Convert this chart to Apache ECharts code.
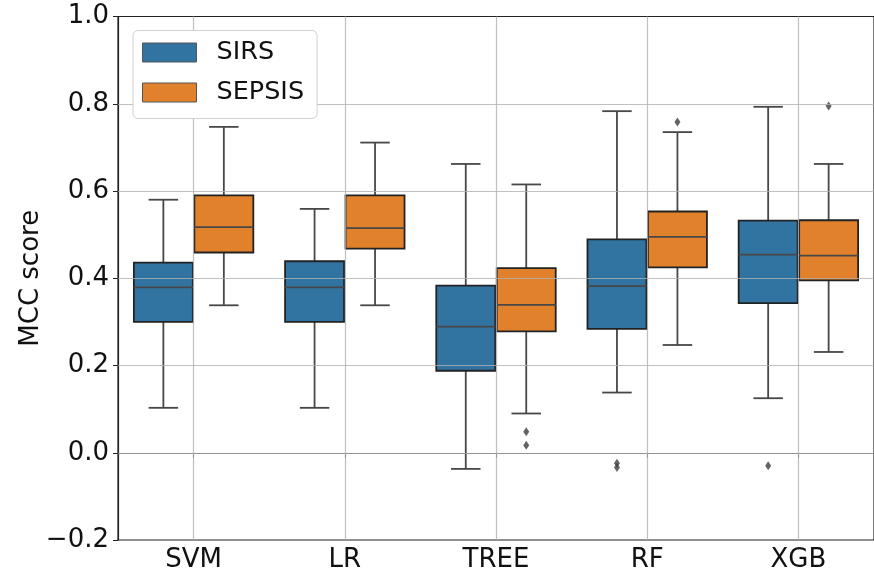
<!DOCTYPE html>
<html>
<head>
<meta charset="utf-8">
<script src="https://cdn.jsdelivr.net/npm/echarts@6/dist/echarts.min.js"></script>
<style>
  html, body { margin: 0; padding: 0; background: #fff; }
  #chart { width: 874px; height: 573px; }
</style>
</head>
<body>
<div id="chart"></div>
<script>
// model names on the x axis
const categories = ['SVM', 'LR', 'TREE', 'RF', 'XGB'];
const yTicks = [-0.2, 0, 0.2, 0.4, 0.6, 0.8, 1.0];

// box stats: whisker low, Q1, median, Q3, whisker high
const sirsMin = [0.103, 0.103, -0.037, 0.138, 0.125];
const sirsQ1  = [0.300, 0.300, 0.188, 0.284, 0.343];
const sirsMed = [0.379, 0.379, 0.289, 0.382, 0.454];
const sirsQ3  = [0.436, 0.439, 0.383, 0.489, 0.532];
const sirsMax = [0.580, 0.559, 0.662, 0.783, 0.793];

const sepsisMin = [0.338, 0.338, 0.090, 0.247, 0.231];
const sepsisQ1  = [0.459, 0.468, 0.278, 0.425, 0.395];
const sepsisMed = [0.517, 0.515, 0.339, 0.495, 0.452];
const sepsisQ3  = [0.590, 0.590, 0.423, 0.553, 0.533];
const sepsisMax = [0.747, 0.711, 0.615, 0.735, 0.662];

// fliers: [category index, value]
const sirsOutliers = [[3, -0.024], [3, -0.034], [4, -0.030]];
const sepsisOutliers = [[2, 0.048], [2, 0.017], [3, 0.758], [4, 0.795]];

const BLUE = '#3274a1';
const ORANGE = '#e1812c';
const EDGE = '#222';
const LINE = '#474747';
const FONT = 'DejaVu Sans';

// hue offset inside a category band (seaborn dodge)
const DODGE = 0.2;
const BOX_FRAC = 0.39;

function boxRows(mins, q1s, meds, q3s, maxs, shift) {
  return categories.map((c, i) => [i + 0.5 + shift, mins[i], q1s[i], meds[i], q3s[i], maxs[i]]);
}
function flierRows(list, shift) {
  return list.map(d => [d[0] + 0.5 + shift, d[1]]);
}

function renderBox(params, api) {
  const x = api.value(0);
  const pMin = api.coord([x, api.value(1)]);
  const pQ1 = api.coord([x, api.value(2)]);
  const pMed = api.coord([x, api.value(3)]);
  const pQ3 = api.coord([x, api.value(4)]);
  const pMax = api.coord([x, api.value(5)]);
  const band = api.size([1, 0])[0];
  const w = band * BOX_FRAC;
  const cx = pMed[0];
  const cap = w / 4;
  const lineStyle = { stroke: LINE, lineWidth: 1.8, fill: null };
  return {
    type: 'group',
    children: [
      { type: 'line', shape: { x1: cx, y1: pMin[1], x2: cx, y2: pQ1[1] }, style: lineStyle },
      { type: 'line', shape: { x1: cx, y1: pQ3[1], x2: cx, y2: pMax[1] }, style: lineStyle },
      { type: 'line', shape: { x1: cx - cap, y1: pMin[1], x2: cx + cap, y2: pMin[1] }, style: lineStyle },
      { type: 'line', shape: { x1: cx - cap, y1: pMax[1], x2: cx + cap, y2: pMax[1] }, style: lineStyle },
      {
        type: 'rect',
        shape: { x: cx - w / 2, y: pQ3[1], width: w, height: pQ1[1] - pQ3[1] },
        style: { fill: api.visual('color'), stroke: EDGE, lineWidth: 1.8 }
      },
      { type: 'line', shape: { x1: cx - w / 2, y1: pMed[1], x2: cx + w / 2, y2: pMed[1] }, style: lineStyle }
    ]
  };
}

const chart = echarts.init(document.getElementById('chart'), null, { renderer: 'canvas' });

chart.setOption({
  animation: false,
  backgroundColor: '#fff',
  textStyle: { fontFamily: FONT },
  grid: {
    left: 118, right: -6, top: 16.5, bottom: 30.3,
    show: true, borderColor: EDGE, borderWidth: 1.2, backgroundColor: 'transparent'
  },
  legend: {
    orient: 'vertical',
    left: 133, top: 30.5,
    z: 10,
    itemWidth: 54, itemHeight: 19, itemGap: 14,
    padding: [9, 13, 13, 9],
    borderColor: '#d0d0d0', borderWidth: 1, borderRadius: 5,
    backgroundColor: '#fff',
    textStyle: { fontSize: 25.5, lineHeight: 25, color: '#111', fontFamily: FONT, padding: [0, 0, 0, 15] },
    data: [
      { name: 'SIRS', icon: 'rect', itemStyle: { color: BLUE, borderColor: '#555', borderWidth: 1 } },
      { name: 'SEPSIS', icon: 'rect', itemStyle: { color: ORANGE, borderColor: '#555', borderWidth: 1 } }
    ]
  },
  xAxis: [
    {
      type: 'category',
      data: categories,
      boundaryGap: true,
      axisLine: { show: true, lineStyle: { color: EDGE, width: 1.2 } },
      axisTick: { show: true, alignWithLabel: true, length: 5, lineStyle: { color: EDGE } },
      axisLabel: { fontSize: 26, color: '#111', margin: 7, fontFamily: FONT },
      splitLine: { show: false }
    },
    { type: 'value', min: 0, max: 5, show: false, splitLine: { show: false } }
  ],
  yAxis: {
    type: 'value',
    min: -0.2, max: 1.0, interval: 0.2,
    name: 'MCC score',
    nameLocation: 'middle',
    nameGap: 74,
    nameMoveOverlap: false,
    nameTextStyle: { fontSize: 26, color: '#111', fontFamily: FONT },
    axisLine: { show: true, lineStyle: { color: EDGE, width: 1.2 } },
    axisTick: { show: true, length: 5, lineStyle: { color: EDGE } },
    axisLabel: {
      fontSize: 26, color: '#111', margin: 9, fontFamily: FONT,
      formatter: v => (v < -1e-9 ? '\u2212' : '') + Math.abs(v).toFixed(1)
    },
    splitLine: { show: false }
  },
  series: [
    {
      name: 'SIRS', type: 'custom', xAxisIndex: 1,
      itemStyle: { color: BLUE },
      encode: { x: 0, y: [1, 2, 3, 4, 5] },
      renderItem: renderBox,
      data: boxRows(sirsMin, sirsQ1, sirsMed, sirsQ3, sirsMax, -DODGE)
    },
    {
      name: 'SEPSIS', type: 'custom', xAxisIndex: 1,
      itemStyle: { color: ORANGE },
      encode: { x: 0, y: [1, 2, 3, 4, 5] },
      renderItem: renderBox,
      data: boxRows(sepsisMin, sepsisQ1, sepsisMed, sepsisQ3, sepsisMax, DODGE)
    },
    {
      name: 'SIRS', type: 'scatter', xAxisIndex: 1,
      symbol: 'diamond', symbolSize: [6, 9],
      itemStyle: { color: '#3d3d3d' },
      data: flierRows(sirsOutliers, -DODGE)
    },
    {
      name: 'SEPSIS', type: 'scatter', xAxisIndex: 1,
      symbol: 'diamond', symbolSize: [6, 9],
      itemStyle: { color: '#3d3d3d' },
      data: flierRows(sepsisOutliers, DODGE),
      // grid drawn on top of the boxes, like the source figure
      markLine: {
        silent: true, symbol: 'none', z: 3, animation: false,
        label: { show: false },
        lineStyle: { color: 'rgba(176,176,176,0.8)', width: 1.2, type: 'solid' },
        data: categories.map((c, i) => ({ xAxis: i + 0.5 }))
          .concat(yTicks.slice(1, -1).map(v => ({ yAxis: v })))
      }
    }
  ]
});
</script>
</body>
</html>
